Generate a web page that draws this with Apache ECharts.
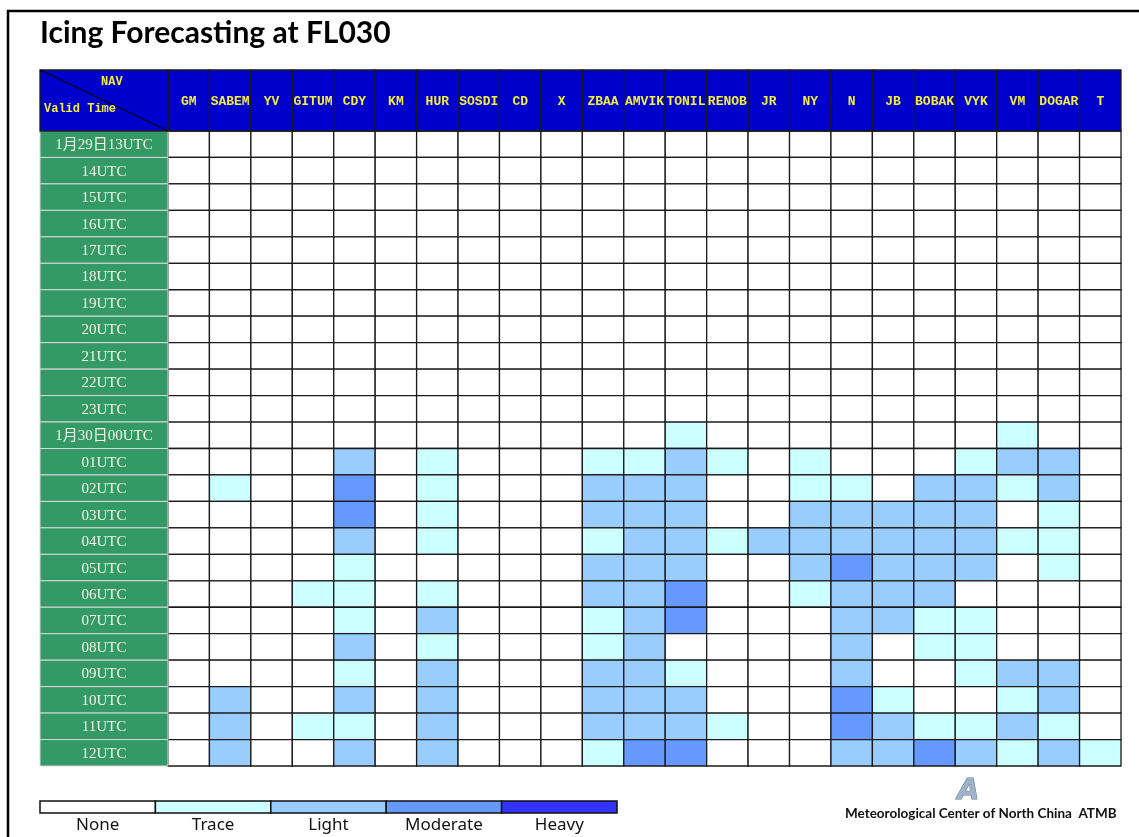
<!DOCTYPE html>
<html><head><meta charset="utf-8">
<script src="https://cdn.jsdelivr.net/npm/echarts@6/dist/echarts.min.js"></script>
<style>html,body{margin:0;padding:0;background:#fff}#c{width:1139px;height:837px}</style>
</head><body><div id="c"></div>
<script>
const stations = ['GM','SABEM','YV','GITUM','CDY','KM','HUR','SOSDI','CD','X','ZBAA','AMVIK','TONIL','RENOB','JR','NY','N','JB','BOBAK','VYK','VM','DOGAR','T'];
const times = ['1月29日13UTC','14UTC','15UTC','16UTC','17UTC','18UTC','19UTC','20UTC','21UTC','22UTC','23UTC',
  '1月30日00UTC','01UTC','02UTC','03UTC','04UTC','05UTC','06UTC','07UTC','08UTC','09UTC','10UTC','11UTC','12UTC'];
const levels = ['None','Trace','Light','Moderate','Heavy'];
const levelColors = ['#FFFFFF','#CCFFFF','#99CCFF','#6699FF','#3333FF'];
// icing level per time row (0 None .. 4 Heavy), columns follow stations
const icing = [
  [0,0,0,0,0,0,0,0,0,0,0,0,0,0,0,0,0,0,0,0,0,0,0],
  [0,0,0,0,0,0,0,0,0,0,0,0,0,0,0,0,0,0,0,0,0,0,0],
  [0,0,0,0,0,0,0,0,0,0,0,0,0,0,0,0,0,0,0,0,0,0,0],
  [0,0,0,0,0,0,0,0,0,0,0,0,0,0,0,0,0,0,0,0,0,0,0],
  [0,0,0,0,0,0,0,0,0,0,0,0,0,0,0,0,0,0,0,0,0,0,0],
  [0,0,0,0,0,0,0,0,0,0,0,0,0,0,0,0,0,0,0,0,0,0,0],
  [0,0,0,0,0,0,0,0,0,0,0,0,0,0,0,0,0,0,0,0,0,0,0],
  [0,0,0,0,0,0,0,0,0,0,0,0,0,0,0,0,0,0,0,0,0,0,0],
  [0,0,0,0,0,0,0,0,0,0,0,0,0,0,0,0,0,0,0,0,0,0,0],
  [0,0,0,0,0,0,0,0,0,0,0,0,0,0,0,0,0,0,0,0,0,0,0],
  [0,0,0,0,0,0,0,0,0,0,0,0,0,0,0,0,0,0,0,0,0,0,0],
  [0,0,0,0,0,0,0,0,0,0,0,0,1,0,0,0,0,0,0,0,1,0,0],
  [0,0,0,0,2,0,1,0,0,0,1,1,2,1,0,1,0,0,0,1,2,2,0],
  [0,1,0,0,3,0,1,0,0,0,2,2,2,0,0,1,1,0,2,2,1,2,0],
  [0,0,0,0,3,0,1,0,0,0,2,2,2,0,0,2,2,2,2,2,0,1,0],
  [0,0,0,0,2,0,1,0,0,0,1,2,2,1,2,2,2,2,2,2,1,1,0],
  [0,0,0,0,1,0,0,0,0,0,2,2,2,0,0,2,3,2,2,2,0,1,0],
  [0,0,0,1,1,0,1,0,0,0,2,2,3,0,0,1,2,2,2,0,0,0,0],
  [0,0,0,0,1,0,2,0,0,0,1,2,3,0,0,0,2,2,1,1,0,0,0],
  [0,0,0,0,2,0,1,0,0,0,1,2,0,0,0,0,2,0,1,1,0,0,0],
  [0,0,0,0,1,0,2,0,0,0,2,2,1,0,0,0,2,0,0,1,2,2,0],
  [0,2,0,0,2,0,2,0,0,0,2,2,2,0,0,0,3,1,0,0,1,2,0],
  [0,2,0,1,1,0,2,0,0,0,2,2,2,1,0,0,3,2,1,1,2,1,0],
  [0,2,0,0,2,0,2,0,0,0,1,3,3,0,0,0,2,2,3,2,1,2,1]
];

const cellData = [];
icing.forEach((row, r) => row.forEach((v, c) => cellData.push([c, r, v])));
const headerData = stations.map((s, i) => [i, 0]);
const rowLabelData = times.map((t, i) => [0, i]);
const legendData = levels.map((l, i) => [i, 0, i]);

const LINE = '#1a1a1a';
function cellRect(api) {
  const p = api.coord([api.value(0), api.value(1)]);
  const s = api.size([1, 1]);
  return {x: p[0] - s[0] / 2, y: p[1] - s[1] / 2, width: s[0], height: s[1], cx: p[0], cy: p[1]};
}

const chart = echarts.init(document.getElementById('c'), null, {renderer: 'canvas'});
chart.setOption({
  animation: false,
  backgroundColor: '#ffffff',
  title: {
    text: 'Icing Forecasting at FL030', left: 35, top: 13,
    textStyle: {fontFamily: 'Lato', fontWeight: 'bold', fontSize: 30, color: '#000'}
  },
  grid: [
    {left: 168, top: 131, width: 953, height: 635},
    {left: 168, top: 70, width: 953, height: 61},
    {left: 40, top: 131, width: 128, height: 635},
    {left: 40, top: 801, width: 577, height: 12}
  ],
  xAxis: [
    {type: 'category', gridIndex: 0, data: stations, show: false},
    {type: 'category', gridIndex: 1, data: stations, show: false},
    {type: 'category', gridIndex: 2, data: ['label'], show: false},
    {type: 'category', gridIndex: 3, data: levels,
      axisLine: {show: false}, axisTick: {show: false},
      axisLabel: {margin: 4, fontSize: 17, color: '#111', fontFamily: 'Noto Sans'}}
  ],
  yAxis: [
    {type: 'category', gridIndex: 0, data: times, inverse: true, show: false},
    {type: 'category', gridIndex: 1, data: ['header'], show: false},
    {type: 'category', gridIndex: 2, data: times, inverse: true, show: false},
    {type: 'category', gridIndex: 3, data: ['key'], show: false}
  ],
  series: [
    {
      type: 'custom', xAxisIndex: 0, yAxisIndex: 0, data: cellData,
      renderItem: function (params, api) {
        const r = cellRect(api);
        return {type: 'rect', shape: {x: r.x, y: r.y, width: r.width, height: r.height},
          style: {fill: levelColors[api.value(2)], stroke: LINE, lineWidth: 1.3}};
      }
    },
    {
      type: 'custom', xAxisIndex: 1, yAxisIndex: 1, data: headerData,
      renderItem: function (params, api) {
        const r = cellRect(api);
        return {type: 'group', children: [
          {type: 'rect', shape: {x: r.x, y: r.y, width: r.width, height: r.height},
            style: {fill: '#0000CC', stroke: LINE, lineWidth: 1.3}},
          {type: 'text', style: {text: stations[params.dataIndex], x: r.cx, y: r.cy + 1,
            align: 'center', verticalAlign: 'middle', fill: '#F2EE3A',
            font: 'bold 13px "Liberation Mono", monospace'}}
        ]};
      }
    },
    {
      type: 'custom', xAxisIndex: 2, yAxisIndex: 2, data: rowLabelData,
      renderItem: function (params, api) {
        const r = cellRect(api);
        return {type: 'group', children: [
          {type: 'rect', shape: {x: r.x, y: r.y, width: r.width, height: r.height},
            style: {fill: '#339966', stroke: '#d8d8d8', lineWidth: 1}},
          {type: 'text', style: {text: times[params.dataIndex], x: r.cx, y: r.cy + 1,
            align: 'center', verticalAlign: 'middle', fill: '#F4F4E6',
            font: '15px "Liberation Serif", "Noto Sans CJK SC", serif'}}
        ]};
      }
    },
    {
      type: 'custom', xAxisIndex: 3, yAxisIndex: 3, data: legendData,
      renderItem: function (params, api) {
        const r = cellRect(api);
        return {type: 'rect', shape: {x: r.x, y: r.y, width: r.width, height: r.height},
          style: {fill: levelColors[api.value(2)], stroke: '#111', lineWidth: 1.5}};
      }
    }
  ],
  graphic: [
    {type: 'polyline', shape: {points: [[8, 837], [8, 11], [1139, 11]]},
      style: {stroke: '#000', lineWidth: 2.5, fill: null}, z: 10},
    {type: 'rect', shape: {x: 40, y: 70, width: 128, height: 61},
      style: {fill: '#0000CC', stroke: LINE, lineWidth: 1.3}, z: 5},
    {type: 'line', shape: {x1: 40, y1: 70, x2: 168, y2: 131},
      style: {stroke: '#000', lineWidth: 1.2}, z: 6},
    {type: 'text', left: 101, top: 76, z: 7,
      style: {text: 'NAV', fill: '#F2EE3A', font: 'bold 12px "Liberation Mono", monospace'}},
    {type: 'text', left: 44, top: 103, z: 7,
      style: {text: 'Valid Time', fill: '#F2EE3A', font: 'bold 12px "Liberation Mono", monospace'}},
    {type: 'text', left: 957, top: 777, z: 7,
      style: {text: 'A', fill: '#9fb3c8', stroke: '#5f7a96', lineWidth: 1,
        font: 'italic bold 28px "DejaVu Sans"'}},
    {type: 'text', left: 845, top: 807, z: 7,
      style: {text: 'Meteorological Center of North China  ATMB', fill: '#111',
        font: 'bold 13.5px Lato, "Open Sans", sans-serif'}}
  ]
});
</script></body></html>
